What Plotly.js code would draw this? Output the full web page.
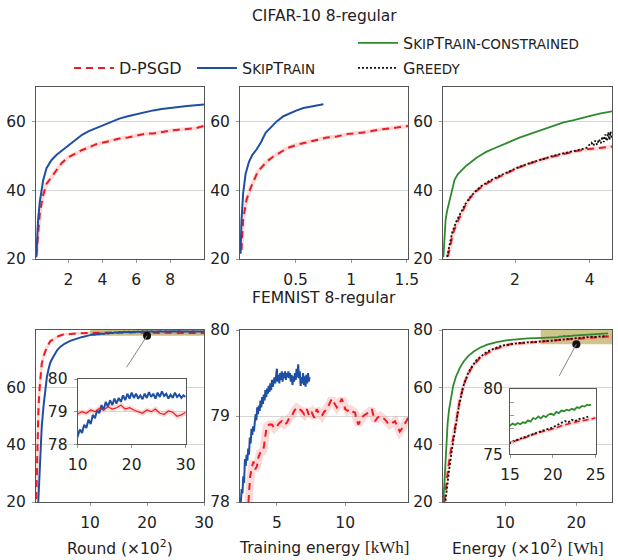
<!DOCTYPE html>
<html><head><meta charset="utf-8">
<script src="https://cdn.plot.ly/plotly-3.0.1.min.js"></script>
<style>html,body{margin:0;padding:0;background:#fff}</style>
</head><body><div id="chart" style="width:618px;height:560px"></div>
<script>
// ---------------- DATA ----------------
// CIFAR-10, accuracy vs round (x10^2)
const cifarRound = [0.1,0.2,0.3,0.4,0.5,0.7,1.0,1.3,1.6,2.0,2.4,2.8,3.2,3.6,4.0,4.5,5.0,5.5,6.0,6.5,7.0,7.5,8.0,8.5,9.0,9.5,10.0];
const cifarRoundSkip = [20.5,31,36.5,39.8,42.8,46.4,48.8,50.3,51.5,52.9,54.6,56.1,57.2,58.0,58.9,59.9,60.8,61.5,62.1,62.7,63.2,63.6,64.0,64.2,64.5,64.8,64.9];
const cifarRoundDpsgd = [21,28.5,33,36,38.5,41.8,43.8,46.0,47.9,49.6,50.6,51.7,52.4,53.3,53.8,54.5,55.0,55.3,55.9,56.4,56.5,57.0,57.3,57.6,57.9,58.0,58.7];
// CIFAR-10, accuracy vs training energy (kWh)
const cifarTrainEnergySkip = [0.005,0.013,0.028,0.05,0.08,0.11,0.15,0.19,0.23,0.28,0.33,0.39,0.45,0.51,0.57,0.63,0.69,0.75];
const cifarTrainAccSkip = [21.5,31,39,44.7,48.2,50.2,51.9,54,56.7,58.5,60,61.5,62.4,63.2,63.9,64.3,64.7,65.0];
const cifarTrainEnergyDpsgd = [0.013,0.028,0.058,0.10,0.16,0.24,0.30,0.36,0.43,0.51,0.60,0.69,0.78,0.87,0.96,1.05,1.14,1.23,1.32,1.41,1.51];
const cifarTrainAccDpsgd = [22.6,31.4,37.2,41,45.4,48.3,49.8,50.9,52.3,53.2,54.0,54.6,55.3,55.6,56.3,56.6,56.9,57.5,57.8,58.2,58.7];
// CIFAR-10, accuracy vs energy (x10^2 Wh)
const cifarEnergyConstr = [0.08,0.11,0.14,0.18,0.23,0.3,0.38,0.47,0.57,0.68,0.79,0.95,1.1,1.24,1.45,1.65,1.87,2.1,2.34,2.58,2.82,3.06,3.3,3.55,3.8,4.02,4.3,4.6];
const cifarAccConstr = [20.5,26,31.4,34,36.2,39.5,43,44.7,45.9,47,47.9,49.3,50.3,51.2,52.2,53.2,54.1,55.2,56.1,57.1,57.9,58.8,59.7,60.3,61.1,61.6,62.3,62.9];
const cifarEnergyDpsgd = [0.2,0.27,0.34,0.45,0.57,0.68,0.79,0.92,1.06,1.28,1.51,1.78,2.05,2.36,2.67,2.98,3.3,3.62,3.93,4.26,4.6];
const cifarAccDpsgd = [20.7,24.2,27.5,30.6,33.3,35.8,37.7,39.3,40.6,42.2,43.5,45.0,46.4,47.6,48.8,49.7,50.6,51.3,51.9,52.2,52.7];
const cifarEnergyGreedy = [0.18,0.25,0.32,0.43,0.55,0.67,0.8,0.95,1.1,1.3,1.55,1.8,2.1,2.4,2.7,3.0,3.3,3.6,3.9,4.05,4.1,4.15,4.2,4.25,4.3,4.34,4.38,4.42,4.46,4.5,4.53,4.56,4.59,4.6];
const cifarAccGreedy = [20.6,24.5,27.8,31,33.6,36,38,39.8,41.2,42.6,44,45.3,46.7,47.9,49.0,49.9,50.7,51.4,52.2,53.8,52.9,54.4,53.2,54.8,53.6,55.6,54.0,56.2,54.3,56.8,54.6,57.0,55.0,55.8];

// FEMNIST, accuracy vs round (x10^2)
const femRoundSkip = [0.9,1.0,1.1,1.2,1.35,1.5,1.8,2.1,2.4,2.7,3.0,3.3,3.7,4.2,4.8,5.5,6.5,7.5,8.5,
  10,10.4,10.8,11.2,11.6,12,12.4,12.8,13.2,13.6,14,14.4,14.8,15.2,15.6,16,16.4,16.8,17.2,17.6,18,18.4,18.8,19.2,19.6,20,20.4,20.8,21.2,21.6,22,22.4,22.8,23.2,23.6,24,24.4,24.8,25.2,25.6,26,26.4,26.8,27.2,27.6,28,28.4,28.8,29.2,29.6,30];
const femAccSkip = [20,25,31,36,41.5,46,53,59.5,63.5,66.3,68.6,69.8,71.4,72.9,74.2,75.2,76.2,76.9,77.5,
  78.2,78.45,78.35,78.6,78.5,78.75,78.62,78.9,78.8,79.05,78.95,79.2,79.05,79.3,79.15,79.35,79.2,79.4,79.25,79.42,79.3,79.5,79.35,79.55,79.4,79.58,79.42,79.55,79.4,79.5,79.38,79.55,79.42,79.6,79.45,79.55,79.4,79.58,79.45,79.62,79.48,79.55,79.4,79.52,79.42,79.58,79.45,79.52,79.42,79.5,79.45];
const femRoundDpsgd = [0.55,0.6,0.65,0.75,0.9,1.05,1.25,1.5,1.8,2.1,2.4,3.0,3.6,4.5,5.3,6.5,8,
  10,10.8,11.6,12.4,13.2,14,14.8,15.6,16.4,17.2,18,18.8,19.6,20.4,21.2,22,22.8,23.6,24.4,25.2,26,26.8,27.6,28.4,29.2,30];
const femAccDpsgd = [21,27,33.4,42.6,50.5,57.7,63.5,68.1,70.8,72.6,73.9,76.1,76.9,77.9,78.4,78.7,78.85,
  78.93,79.0,78.95,79.05,79.0,79.1,79.05,79.15,79.08,79.12,79.2,79.08,79.12,79.05,79.0,78.95,79.05,79.0,79.08,78.95,78.92,79.02,78.98,78.86,78.9,78.98];

// FEMNIST, accuracy vs training energy (kWh)
const femTrainEnergySkip = [2.36,2.42,2.48,2.54,2.6,2.66,2.72,2.78,2.84,2.9,2.96,3.02,3.08,3.14,3.2,3.26,3.32,3.38,3.44,3.5,3.56,3.62,3.68,3.74,3.8,3.86,3.92,3.98,4.04,4.1,4.16,4.22,4.28,4.34,4.4,4.46,4.52,4.58,4.64,4.7,4.76,4.82,4.88,4.94,5.0,5.06,5.12,5.18,5.24,5.3,5.36,5.42,5.48,5.54,5.6,5.66,5.72,5.78,5.84,5.9,5.96,6.02,6.08,6.14,6.2,6.26,6.32,6.38,6.44,6.5,6.56,6.62,6.68,6.74,6.8,6.86,6.92,6.98,7.04,7.1,7.16,7.22,7.28,7.34,7.4];
const femTrainAccSkip = [78.0,78.15,78.1,78.3,78.22,78.5,78.42,78.55,78.48,78.62,78.55,78.75,78.68,78.85,78.78,78.88,78.82,78.98,79.02,78.95,79.1,79.02,79.12,79.06,79.18,79.1,79.22,79.14,79.25,79.18,79.3,79.22,79.32,79.26,79.35,79.28,79.38,79.3,79.42,79.34,79.4,79.45,79.38,79.5,79.55,79.4,79.48,79.38,79.5,79.42,79.52,79.4,79.5,79.44,79.52,79.42,79.5,79.45,79.52,79.44,79.5,79.4,79.48,79.36,79.46,79.4,79.5,79.42,79.55,79.45,79.6,79.44,79.52,79.35,79.45,79.38,79.5,79.36,79.46,79.34,79.48,79.38,79.5,79.4,79.45];
const femTrainEnergyDpsgd = [2.92,3.04,3.16,3.29,3.41,3.53,3.65,3.77,3.9,4.02,4.14,4.26,4.44,4.63,4.82,5.0,5.18,5.36,5.55,5.73,5.91,6.09,6.27,6.46,6.64,6.82,7.0,7.19,7.37,7.56,7.74,7.92,8.1,8.29,8.47,8.65,8.84,9.02,9.2,9.39,9.57,9.75,9.9,10.0,10.18,10.36,10.54,10.72,10.85,10.97,11.15,11.33,11.5,11.7,11.95,12.07,12.19,12.37,12.55,12.73,12.92,13.1,13.28,13.46,13.65,13.82,14.0,14.19,14.38,14.5,14.62];
const femTrainAccDpsgd = [78.0,78.29,78.4,78.47,78.38,78.41,78.52,78.57,78.58,78.61,78.75,78.88,78.9,78.9,78.86,78.88,78.92,78.94,78.9,78.92,78.98,79.0,79.06,79.1,79.08,79.06,79.02,79.08,79.0,79.04,78.98,79.08,79.02,79.0,79.05,79.08,79.14,79.2,79.15,79.1,79.14,79.2,79.14,79.08,79.06,79.08,79.05,79.04,78.95,78.9,78.96,79.0,79.02,79.04,79.08,79.0,78.94,78.98,79.0,78.98,78.96,78.92,78.9,78.92,78.94,78.88,78.82,78.86,78.92,78.95,78.98];

// FEMNIST, accuracy vs energy (x10^2 Wh)
const femEnergyConstr = [1.35,1.45,1.55,1.65,1.79,1.95,2.15,2.4,2.72,3.1,3.66,4.2,4.83,5.6,6.48,7.5,8.83,10.2,11.65,13.2,14.4,
  15.0,15.3,15.6,15.9,16.2,16.5,16.8,17.1,17.4,17.7,18.0,18.3,18.6,18.9,19.2,19.5,19.8,20.1,20.4,20.7,21.0,21.3,21.6,21.9,22.2,22.5,22.8,23.1,23.4,23.7,24.0,24.2,24.45];
const femAccConstr = [20,25,31.1,37,42.8,47.5,52.2,56.3,60.4,63.6,66.8,69.0,70.9,72.5,73.8,74.9,75.8,76.4,76.8,77.05,77.15,
  77.2,77.35,77.25,77.4,77.3,77.45,77.4,77.6,77.5,77.78,77.7,77.9,77.75,77.95,77.85,78.05,78.1,78.0,78.25,78.15,78.35,78.3,78.42,78.35,78.48,78.4,78.6,78.55,78.7,78.65,78.8,78.75,78.8];
const femEnergyDpsgd = [1.5,1.65,1.88,2.25,2.72,3.19,3.66,4.37,5.3,6.48,8.35,10.7,12.9,
  15.0,15.5,16.0,16.4,16.9,17.5,18.0,18.7,19.3,19.9,20.5,21.0,21.6,22.2,22.8,23.4,24.0,24.5,25.0];
const femAccDpsgd2 = [20,24,28.8,35.8,41.6,48.7,55.7,62.1,66.8,70.3,73.2,75.0,75.5,
  75.85,76.0,76.1,76.22,76.3,76.48,76.6,76.73,76.82,76.91,77.05,77.19,77.3,77.42,77.5,77.57,77.62,77.7,77.8];
const femEnergyGreedy = [1.65,1.9,2.2,2.6,3.0,3.5,4.1,4.9,6.0,7.5,9.5,12,14,
  15.0,15.6,16.2,16.8,17.4,18.0,18.6,19.2,19.8,20.4,21.0,21.4,21.8,22.2,22.6,23.0,23.4,23.8,24.3];
const femAccGreedy = [20.5,26,32,39,46,53,60,65.5,69.5,72.5,74.5,75.5,75.8,
  75.9,76.05,76.2,76.35,76.5,76.6,76.75,76.9,77.0,77.2,77.4,77.55,77.45,77.65,77.55,77.7,77.75,77.8,77.95];

// zoomed regions (inset ranges)
const roundZoomX = [10, 30], roundZoomY = [78, 80];
const energyZoomX = [15, 25], energyZoomY = [75, 80];

// ---------------- STYLE ----------------
const F = 'DejaVu Sans';
const RED = 'rgb(236,28,36)', BLUE = '#1f4fa3', GREEN = '#2f8a2f', BLACK = '#111';
const PINK = 'rgba(244,140,140,0.32)';
const sc = s => '<span style="font-size:13.5px">' + s + '</span>';
const N_DPSGD = 'D-PSGD';
const N_SKIP = 'S' + sc('KIP') + 'T' + sc('RAIN');
const N_CONSTR = 'S' + sc('KIP') + 'T' + sc('RAIN-CONSTRAINED');
const N_GREEDY = 'G' + sc('REEDY');

const traces = [];
function band(x, y, xa, ya, w) {
  traces.push({x, y, xaxis: xa, yaxis: ya, mode: 'lines', showlegend: false, hoverinfo: 'skip',
    line: {color: PINK, width: w}});
}
function red(x, y, xa, ya, leg) {
  traces.push({x, y, xaxis: xa, yaxis: ya, mode: 'lines', name: N_DPSGD, showlegend: !!leg, legend: 'legend',
    line: {color: RED, width: 2, dash: '7px,5px'}});
}
function blue(x, y, xa, ya, leg) {
  traces.push({x, y, xaxis: xa, yaxis: ya, mode: 'lines', name: N_SKIP, showlegend: !!leg, legend: 'legend2',
    line: {color: BLUE, width: 2}});
}
function green(x, y, xa, ya, leg) {
  traces.push({x, y, xaxis: xa, yaxis: ya, mode: 'lines', name: N_CONSTR, showlegend: !!leg, legend: 'legend3',
    line: {color: GREEN, width: 1.8}});
}
function greedy(x, y, xa, ya, leg) {
  traces.push({x, y, xaxis: xa, yaxis: ya, mode: 'lines', name: N_GREEDY, showlegend: !!leg, legend: 'legend4',
    line: {color: BLACK, width: 1.8, dash: '2px,2px'}});
}

// Panel 1
band(cifarRound, cifarRoundDpsgd, 'x', 'y', 4);
red(cifarRound, cifarRoundDpsgd, 'x', 'y', true);
blue(cifarRound, cifarRoundSkip, 'x', 'y', true);
// Panel 2
band(cifarTrainEnergyDpsgd, cifarTrainAccDpsgd, 'x2', 'y2', 4);
red(cifarTrainEnergyDpsgd, cifarTrainAccDpsgd, 'x2', 'y2');
blue(cifarTrainEnergySkip, cifarTrainAccSkip, 'x2', 'y2');
// Panel 3
band(cifarEnergyDpsgd, cifarAccDpsgd, 'x3', 'y3', 4);
red(cifarEnergyDpsgd, cifarAccDpsgd, 'x3', 'y3');
green(cifarEnergyConstr, cifarAccConstr, 'x3', 'y3', true);
greedy(cifarEnergyGreedy, cifarAccGreedy, 'x3', 'y3', true);
// Panel 4
band(femRoundDpsgd, femAccDpsgd, 'x4', 'y4', 3);
red(femRoundDpsgd, femAccDpsgd, 'x4', 'y4');
blue(femRoundSkip, femAccSkip, 'x4', 'y4');
// Panel 5
band(femTrainEnergyDpsgd, femTrainAccDpsgd, 'x5', 'y5', 8);
red(femTrainEnergyDpsgd, femTrainAccDpsgd, 'x5', 'y5');
blue(femTrainEnergySkip, femTrainAccSkip, 'x5', 'y5');
// Panel 6
band(femEnergyDpsgd, femAccDpsgd2, 'x6', 'y6', 4);
red(femEnergyDpsgd, femAccDpsgd2, 'x6', 'y6');
green(femEnergyConstr, femAccConstr, 'x6', 'y6');
greedy(femEnergyGreedy, femAccGreedy, 'x6', 'y6');
// Inset of panel 4
band(femRoundDpsgd, femAccDpsgd, 'x7', 'y7', 5);
blue(femRoundSkip, femAccSkip, 'x7', 'y7');
traces.push({x: femRoundDpsgd, y: femAccDpsgd, xaxis: 'x7', yaxis: 'y7', mode: 'lines', showlegend: false,
  line: {color: RED, width: 1.2}});
// Inset of panel 6
band(femEnergyDpsgd, femAccDpsgd2, 'x8', 'y8', 4);
traces.push({x: femEnergyDpsgd, y: femAccDpsgd2, xaxis: 'x8', yaxis: 'y8', mode: 'lines', showlegend: false,
  line: {color: RED, width: 1.6, dash: '6px,3px'}});
green(femEnergyConstr, femAccConstr, 'x8', 'y8');
greedy(femEnergyGreedy, femAccGreedy, 'x8', 'y8');
// Pins marking the zoomed regions
const mid = r => (r[0] + r[1]) / 2;
traces.push({x: [mid(roundZoomX)], y: [roundZoomY[0]], xaxis: 'x4', yaxis: 'y4', mode: 'markers', showlegend: false,
  marker: {color: '#111', size: 8}, cliponaxis: false});
traces.push({x: [mid(energyZoomX)], y: [energyZoomY[0]], xaxis: 'x6', yaxis: 'y6', mode: 'markers', showlegend: false,
  marker: {color: '#111', size: 8}, cliponaxis: false});

// ---------------- LAYOUT ----------------
const W = 618, H = 560;
const dx = (a, b) => [a / W, b / W];
const dy = (top, bot) => [1 - bot / H, 1 - top / H];
const tickFont = {family: F, size: 15.5, color: '#222'};
function ax(domain, range, tickvals, anchor, isY, extra) {
  return Object.assign({
    domain, range, tickvals, anchor, showline: true, linecolor: '#555', linewidth: 1, mirror: true,
    ticks: 'outside', ticklen: 3, tickcolor: '#999', showgrid: !!isY, gridcolor: '#d6d6d6', gridwidth: 1,
    zeroline: false, tickfont: tickFont, ticklabelstandoff: 3, fixedrange: true
  }, extra || {});
}
const colX = [dx(36, 204), dx(240, 408), dx(443, 612)];
const rowTop = dy(87, 259), rowBot = dy(330, 502);
const legFont = {family: F, size: 16, color: '#222'};
const leg = (x, y) => ({x: x / W, y: 1 - y / H, xanchor: 'left', yanchor: 'middle', orientation: 'h', itemwidth: 40,
  font: legFont, bgcolor: 'rgba(0,0,0,0)'});

const layout = {
  width: W, height: H, margin: {l: 0, r: 0, t: 0, b: 0},
  paper_bgcolor: '#ffffff', plot_bgcolor: '#fffffe',
  font: {family: F, size: 15.5, color: '#222'},
  xaxis: ax(colX[0], [0.08, 10], [2, 4, 6, 8], 'y'),
  yaxis: ax(rowTop, [20, 70], [20, 40, 60], 'x', true),
  xaxis2: ax(colX[1], [0, 1.51], [0.5, 1, 1.5], 'y2'),
  yaxis2: ax(rowTop, [20, 70], [20, 40, 60], 'x2', true),
  xaxis3: ax(colX[2], [0.07, 4.6], [2, 4], 'y3'),
  yaxis3: ax(rowTop, [20, 70], [20, 40, 60], 'x3', true),
  xaxis4: ax(colX[0], [0.5, 30], [10, 20, 30], 'y4'),
  yaxis4: ax(rowBot, [20, 80], [20, 40, 60], 'x4', true),
  xaxis5: ax(colX[1], [2.3, 14.6], [5, 10], 'y5'),
  yaxis5: ax(rowBot, [78, 80], [78, 79, 80], 'x5', true),
  xaxis6: ax(colX[2], [1.3, 25], [10, 20], 'y6'),
  yaxis6: ax(rowBot, [20, 80], [20, 40, 60, 80], 'x6', true),
  xaxis7: ax(dx(77.7, 185.7), roundZoomX, [10, 20, 30], 'y7'),
  yaxis7: ax(dy(379, 444.3), roundZoomY, [78, 79, 80], 'x7', true),
  xaxis8: ax(dx(510, 595.7), energyZoomX, [15, 20, 25], 'y8'),
  yaxis8: ax(dy(389, 454.3), energyZoomY, [75, 80], 'x8', false,
    {ticks: 'inside', ticklen: 4, minor: {tickvals: [76, 77, 78, 79], ticks: 'inside', ticklen: 4, tickcolor: '#999'}}),
  showlegend: true,
  legend: leg(69, 68),
  legend2: leg(192, 68),
  legend3: leg(353, 43),
  legend4: leg(353, 68),
  shapes: [
    {type: 'rect', xref: 'x4', yref: 'y4', x0: roundZoomX[0], x1: roundZoomX[1], y0: roundZoomY[0], y1: roundZoomY[1],
      fillcolor: 'rgba(165,150,45,0.6)', line: {width: 0}, layer: 'between'},
    {type: 'rect', xref: 'x6', yref: 'y6', x0: energyZoomX[0], x1: energyZoomX[1], y0: energyZoomY[0], y1: energyZoomY[1],
      fillcolor: 'rgba(165,150,45,0.55)', line: {width: 0}, layer: 'between'},
    {type: 'line', xref: 'x4', yref: 'y4', x0: mid(roundZoomX), y0: roundZoomY[0], x1: 16.4, y1: 67,
      line: {color: '#888', width: 1}},
    {type: 'line', xref: 'x6', yref: 'y6', x0: mid(energyZoomX), y0: energyZoomY[0], x1: 17.6, y1: 64,
      line: {color: '#888', width: 1}}
  ],
  annotations: [
    {text: 'CIFAR-10 8-regular', xref: 'paper', yref: 'paper', x: 324 / W, y: 1 - 16 / H, showarrow: false,
      xanchor: 'center', yanchor: 'middle', font: {family: F, size: 15.5, color: '#222'}},
    {text: 'FEMNIST 8-regular', xref: 'paper', yref: 'paper', x: 324 / W, y: 1 - 298 / H, showarrow: false,
      xanchor: 'center', yanchor: 'middle', font: {family: F, size: 15.5, color: '#222'}},
    {text: 'Round (×10<sup>2</sup>)', xref: 'paper', yref: 'paper', x: 120 / W, y: 1 - 547 / H, showarrow: false,
      xanchor: 'center', yanchor: 'middle', font: {family: F, size: 15.5, color: '#222'}},
    {text: 'Training energy <span style="font-family:\'Liberation Serif\';font-size:17px">[kWh]</span>', xref: 'paper', yref: 'paper',
      x: 324 / W, y: 1 - 547 / H, showarrow: false, xanchor: 'center', yanchor: 'middle', font: {family: F, size: 15.5, color: '#222'}},
    {text: 'Energy (×10<sup>2</sup>) <span style="font-family:\'Liberation Serif\';font-size:17px">[Wh]</span>', xref: 'paper', yref: 'paper',
      x: 528 / W, y: 1 - 547 / H, showarrow: false, xanchor: 'center', yanchor: 'middle', font: {family: F, size: 15.5, color: '#222'}}
  ]
};

Plotly.newPlot('chart', traces, layout, {displayModeBar: false, staticPlot: true});
</script></body></html>
